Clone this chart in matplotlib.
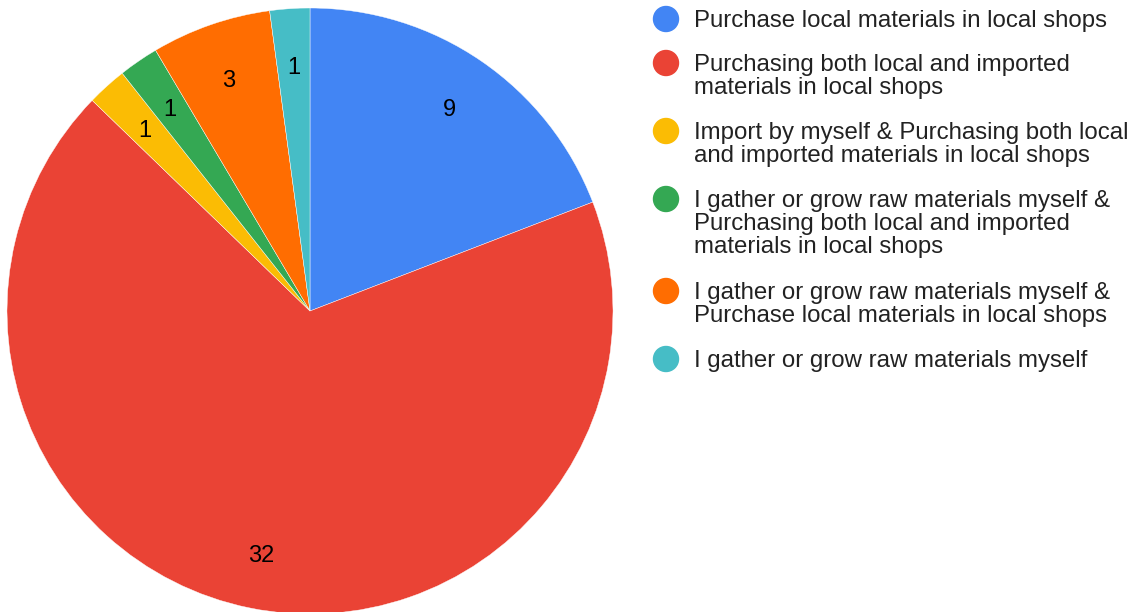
import numpy as np
import matplotlib.pyplot as plt
from matplotlib.patches import Ellipse

plt.rcParams['font.family'] = ['Liberation Sans', 'DejaVu Sans']

# respuestas por fuente de materiales
categorias = [
    'Purchase local materials in local shops',
    'Purchasing both local and imported\nmaterials in local shops',
    'Import by myself & Purchasing both local\nand imported materials in local shops',
    'I gather or grow raw materials myself &\nPurchasing both local and imported\nmaterials in local shops',
    'I gather or grow raw materials myself &\nPurchase local materials in local shops',
    'I gather or grow raw materials myself',
]
valores = [9, 32, 1, 1, 3, 1]
colores = ['#4285F4', '#EA4335', '#FBBC04', '#34A853', '#FF6D01', '#46BDC6']

W, H = 1135, 612
fig = plt.figure(figsize=(W / 100, H / 100), dpi=100)

# ejes del pastel: centro (310, 311) px, radio 303 px
cx, cy, r = 310, 311, 303
ax = fig.add_axes([(cx - r) / W, (H - cy - r) / H, 2 * r / W, 2 * r / H])
wedges, _ = ax.pie(valores, colors=colores, startangle=90, counterclock=False,
                   wedgeprops=dict(edgecolor='white', linewidth=0.3))
for w in wedges:
    w.set_clip_on(False)
ax.set_xlim(-1, 1)
ax.set_ylim(-1, 1)
ax.set_aspect('equal')
ax.axis('off')

# etiquetas con el valor de cada porcion
for w, v in zip(wedges, valores):
    ang = np.deg2rad((w.theta1 + w.theta2) / 2)
    d = 0.815
    ax.text(d * np.cos(ang), d * np.sin(ang) - 0.01, str(v), ha='center', va='center',
            fontsize=17, color='black')

# leyenda hecha a mano
y = 19
for cat, col in zip(categorias, colores):
    fig.add_artist(Ellipse((666 / W, 1 - y / H), 25 / W, 25 / H, color=col,
                           transform=fig.transFigure))
    fig.text(694 / W, 1 - (y - 9) / H, cat, ha='left', va='top', fontsize=17.3,
             color='#222222', linespacing=1.06)
    nlin = cat.count('\n') + 1
    y += 24 * (nlin - 1) + 44

fig.savefig('out.png', dpi=100)
